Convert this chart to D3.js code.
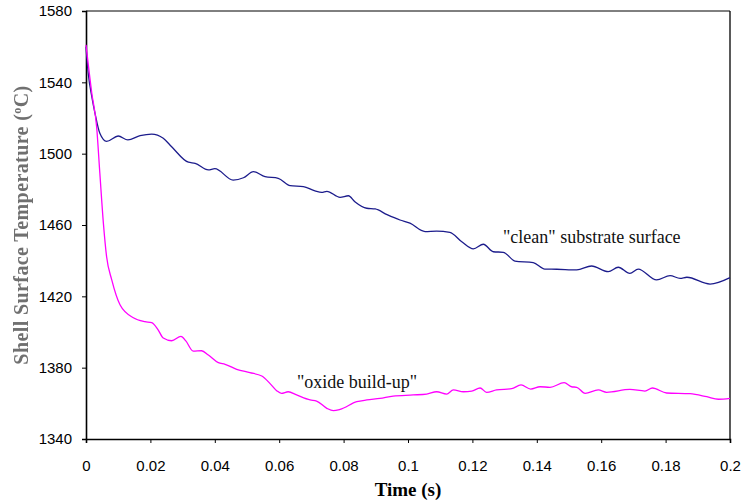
<!DOCTYPE html>
<html>
<head>
<meta charset="utf-8">
<script src="https://cdn.jsdelivr.net/npm/d3@7"></script>
<style>
  body { margin: 0; background: #fff; }
  #chart text { font-family: "Liberation Sans", Arial, sans-serif; }
</style>
</head>
<body>
<div id="chart"></div>
<script>
// ---- data ----
var cleanTime = [0, 0.0007, 0.0018, 0.0028, 0.0043, 0.0064, 0.010, 0.013, 0.0168, 0.0204, 0.024, 0.0266,
  0.0318, 0.0339, 0.038, 0.040, 0.0457, 0.0489, 0.052, 0.0556, 0.0597, 0.0634, 0.0675, 0.0711, 0.0732,
  0.0748, 0.0789, 0.0815, 0.0835, 0.0872, 0.0898, 0.0935, 0.0975, 0.1006, 0.1053, 0.1089, 0.113, 0.1167,
  0.1203, 0.1234, 0.1265, 0.1296, 0.1332, 0.1389, 0.1425, 0.1462, 0.1524, 0.157, 0.1622, 0.1653, 0.1689,
  0.1715, 0.1772, 0.1814, 0.1845, 0.1866, 0.1938, 0.2];
var cleanTemp = [1560, 1545, 1532, 1522.6, 1511.4, 1506.9, 1509.9, 1507.7, 1510.1, 1511, 1508.6, 1503.9,
  1495.2, 1494.6, 1490.9, 1491.6, 1485.2, 1486.5, 1489.9, 1487.1, 1486.2, 1482.1, 1481.5, 1479.2, 1478.3,
  1478.9, 1475.5, 1476.4, 1473.1, 1469.4, 1469, 1465.8, 1462.8, 1461, 1456.3, 1456.6, 1455.9, 1450.6,
  1446.6, 1449.2, 1445, 1444.7, 1439.8, 1438.9, 1435.3, 1435.2, 1434.8, 1437, 1433.8, 1436.3, 1432.9,
  1435.3, 1429.2, 1431.6, 1430.1, 1430.7, 1426.9, 1430.5];

var oxideTime = [0, 0.0018, 0.0033, 0.0043, 0.0054, 0.0064, 0.008, 0.0106, 0.0147, 0.0183, 0.0204, 0.0223,
  0.024, 0.0266, 0.0295, 0.031, 0.0333, 0.0359, 0.038, 0.0411, 0.0432, 0.0468, 0.0509, 0.0546, 0.0571,
  0.0592, 0.0607, 0.0628, 0.0654, 0.0696, 0.0716, 0.0748, 0.0768, 0.0789, 0.0841, 0.0872, 0.0913, 0.0954,
  0.1016, 0.1058, 0.1089, 0.112, 0.1141, 0.1172, 0.1198, 0.1224, 0.1244, 0.1275, 0.1322, 0.1351, 0.1381,
  0.141, 0.1441, 0.1485, 0.1508, 0.1524, 0.155, 0.1591, 0.1617, 0.1689, 0.1736, 0.1759, 0.1803, 0.1876,
  0.1928, 0.1964, 0.2];
var oxideTemp = [1561, 1533.9, 1515.1, 1489, 1461, 1442.2, 1429.2, 1415.1, 1408, 1405.8, 1405.2, 1401.5,
  1396.6, 1395.1, 1397.6, 1395, 1389.3, 1389.5, 1387.1, 1382.8, 1381.9, 1379.1, 1377.2, 1375.3, 1371.2,
  1367.1, 1365.6, 1366.5, 1364.7, 1361.9, 1361.3, 1357.2, 1355.9, 1356.6, 1360.9, 1361.9, 1362.8, 1364.1,
  1364.7, 1365.2, 1366.5, 1365.2, 1367.5, 1366.5, 1366.9, 1368.6, 1366.2, 1367.5, 1368.2, 1370.3, 1368,
  1369.3, 1369, 1371.6, 1369.3, 1369, 1365.6, 1367.5, 1366.2, 1367.8, 1366.9, 1368.6, 1365.8, 1365.4,
  1363.7, 1362.3, 1362.8];

var xTicks = [0, 0.02, 0.04, 0.06, 0.08, 0.1, 0.12, 0.14, 0.16, 0.18, 0.2];
var yTicks = [1340, 1380, 1420, 1460, 1500, 1540, 1580];
var xTickLabels = ["0", "0.02", "0.04", "0.06", "0.08", "0.1", "0.12", "0.14", "0.16", "0.18", "0.2"];

var margin = { top: 11, right: 12, bottom: 64, left: 86 },
  width = 742 - margin.left - margin.right,
  height = 503 - margin.top - margin.bottom;

var svg = d3.select("#chart")
  .append("svg")
  .attr("width", 742)
  .attr("height", 503);

var defs = svg.append("defs");
defs.append("filter")
  .attr("id", "soft")
  .attr("x", "-10%").attr("y", "-10%").attr("width", "120%").attr("height", "120%")
  .append("feGaussianBlur")
  .attr("stdDeviation", 0.7);

var g = svg.append("g")
  .attr("transform", "translate(" + margin.left + "," + margin.top + ")");

var x = d3.scaleLinear().domain([0, 0.2]).range([0, width]);
var y = d3.scaleLinear().domain([1340, 1580]).range([height, 0]);

// frame (top + right)
g.append("line").attr("x1", 0).attr("x2", width).attr("y1", 0).attr("y2", 0)
  .attr("stroke", "#000").attr("stroke-width", 1);
g.append("line").attr("x1", width).attr("x2", width).attr("y1", 0).attr("y2", height)
  .attr("stroke", "#000").attr("stroke-width", 1.3);

// axes
var xAxis = g.append("g")
  .attr("transform", "translate(0," + height + ")")
  .call(d3.axisBottom(x).tickValues(xTicks).tickSize(4).tickPadding(17)
    .tickFormat(function (d, i) { return xTickLabels[i]; }));
var yAxis = g.append("g")
  .call(d3.axisLeft(y).tickValues(yTicks).tickSize(4).tickPadding(10).tickFormat(d3.format("d")));

[xAxis, yAxis].forEach(function (a) {
  a.select(".domain").attr("stroke", "#000").attr("stroke-width", 1.6);
  a.selectAll(".tick line").attr("stroke", "#000").attr("stroke-width", 1);
  a.selectAll(".tick text").attr("fill", "#000").style("font-size", "15px")
    .style("font-family", "'Liberation Sans', Arial, sans-serif");
});

// curves
var line = d3.line()
  .x(function (d) { return x(d[0]); })
  .y(function (d) { return y(d[1]); })
  .curve(d3.curveMonotoneX);

var clean = d3.zip(cleanTime, cleanTemp);
var oxide = d3.zip(oxideTime, oxideTemp);

g.append("path").datum(clean)
  .attr("d", line).attr("fill", "none")
  .attr("stroke", "#1c1c8c").attr("stroke-width", 1.3);
g.append("path").datum(oxide)
  .attr("d", line).attr("fill", "none")
  .attr("stroke", "#ff00ff").attr("stroke-width", 1.3);

// annotations
g.append("text")
  .attr("x", 503 - margin.left).attr("y", 243 - margin.top)
  .style("font-family", "'Liberation Serif', 'Times New Roman', serif")
  .style("font-size", "18px").attr("fill", "#111")
  .text("\"clean\" substrate surface");
g.append("text")
  .attr("x", 297 - margin.left).attr("y", 388 - margin.top)
  .style("font-family", "'Liberation Serif', 'Times New Roman', serif")
  .style("font-size", "18px").attr("fill", "#111")
  .text("\"oxide build-up\"");

// axis titles
svg.append("text")
  .attr("x", margin.left + width / 2).attr("y", 496)
  .attr("text-anchor", "middle")
  .style("font-family", "'Liberation Serif', 'Times New Roman', serif")
  .style("font-size", "19px").style("font-weight", "bold")
  .text("Time (s)");

var yt = svg.append("text")
  .attr("transform", "translate(28," + (margin.top + height / 2) + ") rotate(-90)")
  .attr("text-anchor", "middle")
  .attr("filter", "url(#soft)")
  .attr("fill", "#707070")
  .style("font-family", "'Liberation Serif', 'Times New Roman', serif")
  .style("font-size", "20px").style("font-weight", "bold")
  .style("letter-spacing", "0.4px");
yt.append("tspan").text("Shell Surface Temperature (");
yt.append("tspan").attr("dy", -7).style("font-size", "12px").text("o");
yt.append("tspan").attr("dy", 7).text("C)");
</script>
</body>
</html>
